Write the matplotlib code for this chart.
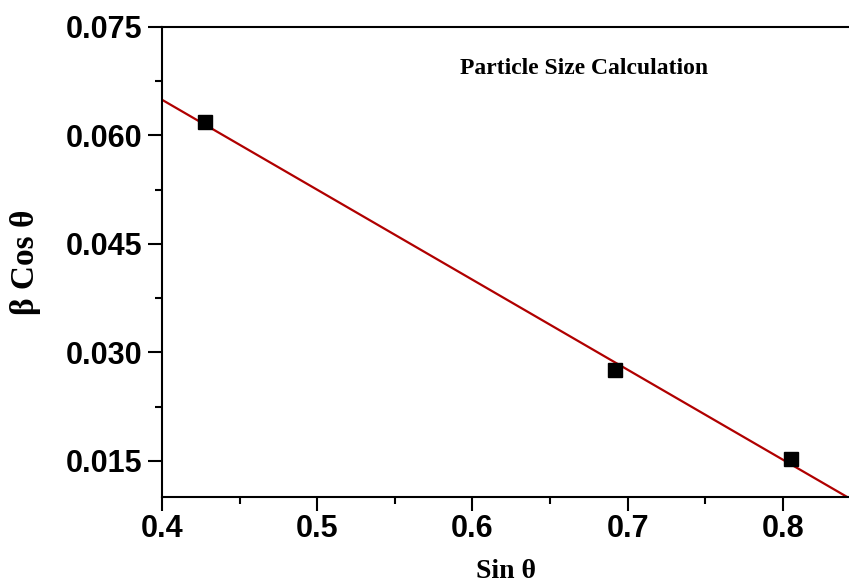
import numpy as np
import matplotlib
matplotlib.use("Agg")
import matplotlib.pyplot as plt
from matplotlib.ticker import MultipleLocator, FormatStrFormatter

sin_theta = [0.4277, 0.692, 0.805]
beta_cos_theta = [0.0618, 0.0275, 0.0153]

x_ticks = [0.4, 0.5, 0.6, 0.7, 0.8]
y_ticks = [0.015, 0.030, 0.045, 0.060, 0.075]

fig = plt.figure(figsize=(8.49, 5.86), dpi=100)
ax = fig.add_axes([0.191, 0.152, 0.809, 0.802])

slope, intercept = np.polyfit(sin_theta, beta_cos_theta, 1)
xl = np.array([0.4, 0.8427])
ax.plot(xl, intercept + slope * xl, color="#b00000", lw=1.6, zorder=2, clip_on=True)
ax.plot(sin_theta, beta_cos_theta, ls="none", marker="s", ms=10.5, color="black", zorder=3)

ax.set_xlim(0.4, 0.8427)
ax.set_ylim(0.010, 0.075)
ax.set_xticks(x_ticks)
ax.set_yticks(y_ticks)
ax.xaxis.set_minor_locator(MultipleLocator(0.05))
ax.yaxis.set_minor_locator(MultipleLocator(0.0075))
ax.xaxis.set_major_formatter(FormatStrFormatter("%.1f"))
ax.yaxis.set_major_formatter(FormatStrFormatter("%.3f"))

ax.spines["right"].set_visible(False)
for s in ["left", "bottom", "top"]:
    ax.spines[s].set_linewidth(1.5)

ax.tick_params(which="major", direction="out", length=10, width=1.5)
ax.tick_params(axis="y", which="major", pad=4)
ax.tick_params(axis="x", which="major", pad=2)
ax.tick_params(which="minor", direction="out", length=5, width=1.5)
ax.tick_params(top=False, right=False, which="both")

for lab in ax.get_xticklabels() + ax.get_yticklabels():
    lab.set_fontfamily("Liberation Sans")
    lab.set_fontweight("bold")
    lab.set_fontsize(22)

ax.set_xlabel("Sin θ", fontfamily="Liberation Serif", fontweight="bold", fontsize=20, labelpad=11)
ax.set_ylabel("β Cos θ", fontfamily="Liberation Serif", fontweight="bold", fontsize=24, labelpad=18)

ax.text(0.614, 0.911, "Particle Size Calculation", transform=ax.transAxes,
        ha="center", va="center", fontfamily="Liberation Serif", fontweight="bold", fontsize=17)

fig.savefig("out.png", dpi=100)
